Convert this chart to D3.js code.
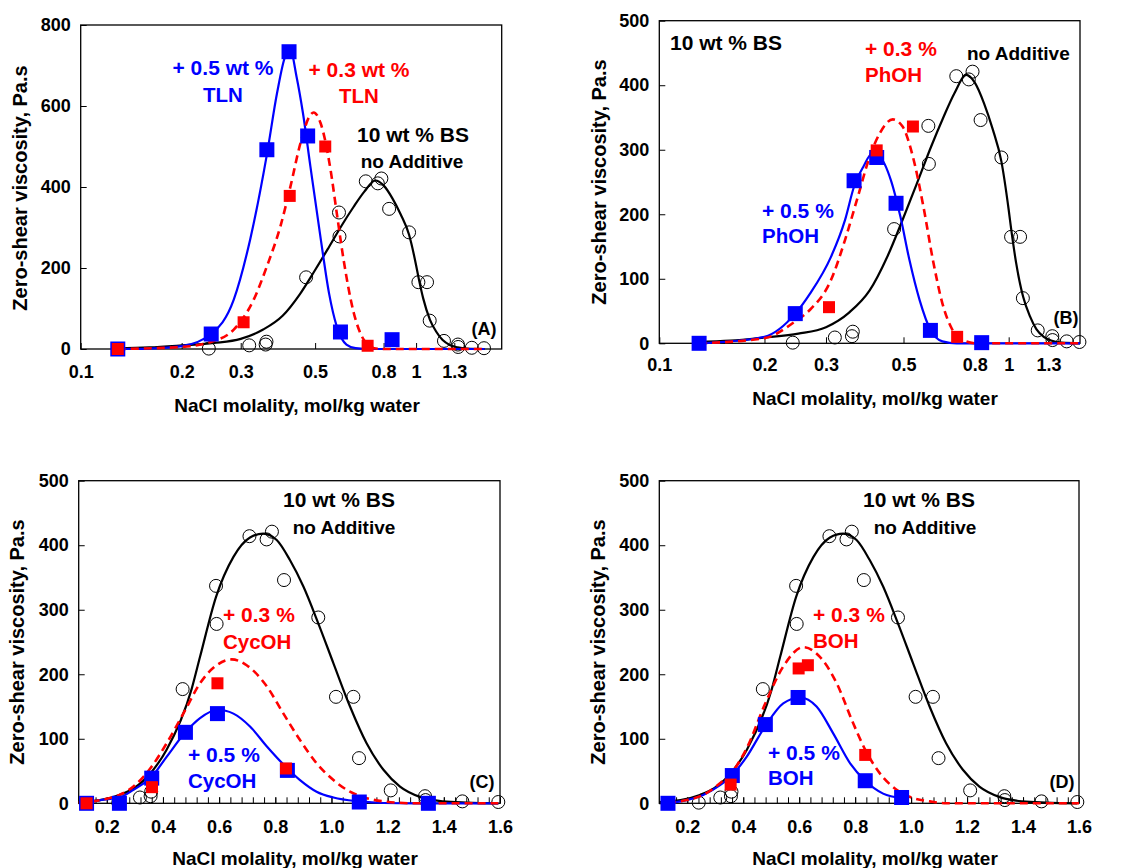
<!DOCTYPE html>
<html>
<head>
<meta charset="utf-8">
<script src="https://cdn.jsdelivr.net/npm/d3@7"></script>
<style>
  body { margin: 0; background: #fff; }
  text { font-family: Arial, "Liberation Sans", sans-serif; font-weight: bold; }
</style>
</head>
<body>
<svg id="fig" width="1131" height="868"></svg>
<script>
// ---- Measured zero-shear viscosity (Pa.s) vs NaCl molality (mol/kg water) ----

// 10 wt % BS, no additive (open circles, shared by all four panels)
const baseX = [0.241, 0.318, 0.356, 0.358, 0.470, 0.589, 0.591, 0.708, 0.769, 0.788,
               0.831, 0.953, 1.016, 1.078, 1.098, 1.211, 1.333, 1.335, 1.466, 1.594];
const baseY = [1, 9, 11, 18, 177, 337, 278, 414, 409, 421,
               346, 288, 165, 165, 70, 20, 11, 5, 3, 2];

// Fitted curve for the base system, as traced on the log axis (A, B)
const baseFitLog = [[0.128,2],[0.16,4],[0.2,9],[0.25,15],[0.3,25],[0.35,48],[0.4,82],
  [0.45,135],[0.5,195],[0.55,252],[0.6,305],[0.65,350],[0.7,388],[0.756,416],[0.8,404],
  [0.85,372],[0.9,332],[0.953,282],[1.0,207],[1.016,178],[1.05,125],[1.1,72],[1.15,42],
  [1.2,22],[1.26,10],[1.33,4],[1.42,1],[1.6,0]];

// Fitted curve for the base system on the linear axis (C, D)
const baseFitLin = [[0.1,2],[0.176,5],[0.245,13],[0.295,23],[0.36,49],[0.413,83],[0.502,177],
  [0.532,227],[0.589,320],[0.651,382],[0.71,412],[0.757,418],[0.805,408],[0.852,377],
  [0.9,336],[0.953,279],[1.007,217],[1.066,150],[1.125,93],[1.185,52],[1.244,26],
  [1.315,10],[1.398,3],[1.481,1],[1.594,0]];

// (A) toluene (TLN)
const tln05Pts = [[0.129,0],[0.245,37],[0.359,492],[0.418,734],[0.475,526],[0.595,42],[0.848,23]];
const tln03Pts = [[0.129,0],[0.306,66],[0.42,378],[0.536,500],[0.717,8]];
const tln05Fit = [[0.129,0],[0.16,1],[0.2,7],[0.245,37],[0.286,122],[0.32,270],[0.359,480],
  [0.385,632],[0.407,722],[0.422,738],[0.44,673],[0.46,582],[0.484,451],[0.52,270],
  [0.55,138],[0.58,56],[0.62,11],[0.66,2],[0.71,0],[1.6,0]];
const tln03Fit = [[0.129,0],[0.2,5],[0.241,16],[0.286,48],[0.328,122],[0.359,204],[0.394,303],
  [0.422,401],[0.452,508],[0.484,578],[0.495,584],[0.519,558],[0.556,442],[0.58,336],
  [0.608,220],[0.652,89],[0.698,23],[0.75,2],[0.8,0],[1.6,0]];

// (B) phenol (PhOH)
const phoh05Pts = [[0.13,0],[0.245,46],[0.361,252],[0.419,288],[0.476,217],[0.597,20],[0.837,1]];
const phoh03Pts = [[0.306,56],[0.419,299],[0.532,336],[0.712,10]];
const phoh05Fit = [[0.13,0],[0.16,3],[0.2,10],[0.245,46],[0.27,77],[0.31,134],[0.34,191],
  [0.361,243],[0.384,274],[0.405,293],[0.427,289],[0.46,253],[0.49,196],[0.52,129],
  [0.556,67],[0.597,21],[0.646,3],[0.71,0],[1.6,0]];
const phoh03Fit = [[0.13,0],[0.2,8],[0.245,34],[0.27,52],[0.31,98],[0.34,160],[0.37,227],
  [0.4,289],[0.427,325],[0.466,347],[0.497,336],[0.532,289],[0.57,212],[0.607,129],
  [0.646,62],[0.69,21],[0.74,5],[0.81,0],[1.6,0]];

// (C) cyclohexanol (CycOH)
const cyc05Pts = [[0.128,0],[0.245,0],[0.36,39],[0.48,110],[0.594,139],[0.843,51],[1.099,2],[1.345,0]];
const cyc03Pts = [[0.128,0],[0.361,25],[0.594,186],[0.838,54]];
const cyc05Fit = [[0.128,0],[0.176,5],[0.245,9],[0.295,21],[0.36,41],[0.413,72],[0.48,110],
  [0.532,132],[0.594,145],[0.651,139],[0.71,119],[0.77,88],[0.843,54],[0.888,36],
  [0.947,18],[1.007,9],[1.099,3],[1.185,0.5],[1.3,0],[1.594,0]];
const cyc03Fit = [[0.1,1],[0.176,5],[0.245,13],[0.295,26],[0.36,57],[0.413,93],[0.48,145],
  [0.532,186],[0.591,214],[0.645,223],[0.698,214],[0.77,181],[0.829,139],[0.888,98],
  [0.947,62],[1.007,36],[1.066,18],[1.125,8],[1.185,3],[1.3,0],[1.594,0]];

// (D) benzyl alcohol (BOH)
const boh05Pts = [[0.131,0],[0.361,43],[0.479,122],[0.596,164],[0.836,35],[0.966,9]];
const boh03Pts = [[0.355,29],[0.598,209],[0.631,214],[0.836,75]];
const boh05Fit = [[0.131,0],[0.198,5],[0.257,13],[0.317,28],[0.361,44],[0.412,72],[0.479,120],
  [0.543,155],[0.603,164],[0.662,150],[0.722,108],[0.782,62],[0.836,35],[0.9,15],[0.966,8]];
const boh03Fit = [[0.131,1],[0.198,5],[0.257,13],[0.317,31],[0.361,49],[0.412,85],[0.479,155],
  [0.543,212],[0.615,242],[0.674,227],[0.734,186],[0.793,124],[0.836,83],[0.889,46],
  [0.948,21],[1.008,8],[1.067,3],[1.127,0],[1.6,0]];

// Axis tick labels
const logTicks = [0.1, 0.2, 0.3, 0.5, 0.8, 1, 1.3];
const linTicks = [0.2, 0.4, 0.6, 0.8, 1.0, 1.2, 1.4, 1.6];
const yTicks800 = [0, 200, 400, 600, 800];
const yTicks500 = [0, 100, 200, 300, 400, 500];

const BLUE = "#0000ff", RED = "#ff0000", BLACK = "#000";
const svg = d3.select("#fig");

const panels = [
  { tag: "A", log: true, xDom: [0.1, 1.8], yDom: [0, 800], yTicks: yTicks800,
    box: { l: 80.7, r: 501.7, t: 25, b: 349 }, baseFit: baseFitLog,
    fit05: tln05Fit, fit03: tln03Fit, pts05: tln05Pts, pts03: tln03Pts,
    yTitle: [20, 188], xTitle: [297, 405], pad: 16,
    notes: [
      { t: "+ 0.5 wt %", x: 223, y: 68, c: BLUE, s: 21, a: "middle" },
      { t: "TLN", x: 223, y: 95, c: BLUE, s: 20.5, a: "middle" },
      { t: "+ 0.3 wt %", x: 359, y: 70, c: RED, s: 21, a: "middle" },
      { t: "TLN", x: 359, y: 96, c: RED, s: 20.5, a: "middle" },
      { t: "10 wt % BS", x: 413, y: 135, c: BLACK, s: 21, a: "middle" },
      { t: "no Additive", x: 412, y: 161, c: BLACK, s: 19, a: "middle" },
      { t: "(A)", x: 484, y: 329, c: BLACK, s: 18, a: "middle" } ] },
  { tag: "B", log: true, xDom: [0.1, 1.6], yDom: [0, 500], yTicks: yTicks500,
    box: { l: 659.3, r: 1080, t: 20.7, b: 343.3 }, baseFit: baseFitLog,
    fit05: phoh05Fit, fit03: phoh03Fit, pts05: phoh05Pts, pts03: phoh03Pts,
    yTitle: [599, 182], xTitle: [875, 398], pad: 15,
    notes: [
      { t: "10 wt % BS", x: 726, y: 43, c: BLACK, s: 21, a: "middle" },
      { t: "+ 0.3 %", x: 865, y: 49, c: RED, s: 21, a: "start" },
      { t: "PhOH", x: 865, y: 75, c: RED, s: 20.5, a: "start" },
      { t: "no Additive", x: 967, y: 53, c: BLACK, s: 19, a: "start" },
      { t: "+ 0.5 %", x: 762, y: 211, c: BLUE, s: 21, a: "start" },
      { t: "PhOH", x: 762, y: 236, c: BLUE, s: 20.5, a: "start" },
      { t: "(B)", x: 1066, y: 318, c: BLACK, s: 18, a: "middle" } ] },
  { tag: "C", log: false, xDom: [0.1, 1.6], yDom: [0, 500], yTicks: yTicks500,
    box: { l: 78.7, r: 500, t: 480.7, b: 803.3 }, baseFit: baseFitLin,
    fit05: cyc05Fit, fit03: cyc03Fit, pts05: cyc05Pts, pts03: cyc03Pts,
    yTitle: [17, 642], xTitle: [295, 858], pad: 17,
    notes: [
      { t: "10 wt % BS", x: 339, y: 500, c: BLACK, s: 21, a: "middle" },
      { t: "no Additive", x: 344, y: 527, c: BLACK, s: 19, a: "middle" },
      { t: "+ 0.3 %", x: 223, y: 615, c: RED, s: 21, a: "start" },
      { t: "CycOH", x: 223, y: 642, c: RED, s: 20.5, a: "start" },
      { t: "+ 0.5 %", x: 188, y: 755, c: BLUE, s: 21, a: "start" },
      { t: "CycOH", x: 188, y: 781, c: BLUE, s: 20.5, a: "start" },
      { t: "(C)", x: 482, y: 782, c: BLACK, s: 18, a: "middle" } ] },
  { tag: "D", log: false, xDom: [0.1, 1.6], yDom: [0, 500], yTicks: yTicks500,
    box: { l: 659.3, r: 1079, t: 480.7, b: 803.3 }, baseFit: baseFitLin,
    fit05: boh05Fit, fit03: boh03Fit, pts05: boh05Pts, pts03: boh03Pts,
    yTitle: [598, 642], xTitle: [875, 858], pad: 17,
    notes: [
      { t: "10 wt % BS", x: 919, y: 500, c: BLACK, s: 21, a: "middle" },
      { t: "no Additive", x: 925, y: 527, c: BLACK, s: 19, a: "middle" },
      { t: "+ 0.3 %", x: 813, y: 615, c: RED, s: 21, a: "start" },
      { t: "BOH", x: 813, y: 641, c: RED, s: 20.5, a: "start" },
      { t: "+ 0.5 %", x: 768, y: 753, c: BLUE, s: 21, a: "start" },
      { t: "BOH", x: 768, y: 778, c: BLUE, s: 20.5, a: "start" },
      { t: "(D)", x: 1062, y: 782, c: BLACK, s: 18, a: "middle" } ] }
];

panels.forEach(p => {
  const { l, r, t, b } = p.box;
  const x = (p.log ? d3.scaleLog() : d3.scaleLinear()).domain(p.xDom).range([l, r]);
  const y = d3.scaleLinear().domain(p.yDom).range([b, t]);
  const g = svg.append("g");

  // y axis (ticks pointing inward)
  const yAxis = g.append("g").attr("transform", `translate(${l},0)`)
    .call(d3.axisLeft(y).tickValues(p.yTicks).tickSizeInner(-6).tickSizeOuter(0).tickPadding(10));
  yAxis.select(".domain").remove();
  yAxis.selectAll("text").style("font-size", "18px").attr("fill", BLACK);
  yAxis.selectAll("line").attr("stroke", BLACK);

  // x axis
  const xAxisG = g.append("g").attr("transform", `translate(0,${b})`);
  if (p.log) {
    xAxisG.call(d3.axisBottom(x).tickValues(logTicks).tickFormat(d => String(d))
      .tickSizeInner(-6).tickSizeOuter(0).tickPadding(p.pad));
  } else {
    const minor = d3.range(0.12, 1.6001, 0.04);
    g.append("g").attr("transform", `translate(0,${b})`)
      .call(d3.axisBottom(x).tickValues(minor).tickFormat("").tickSizeInner(-6).tickSizeOuter(0))
      .call(s => s.select(".domain").remove())
      .selectAll("line").attr("stroke", BLACK);
    xAxisG.call(d3.axisBottom(x).tickValues(linTicks).tickFormat(d3.format(".1f"))
      .tickSizeInner(-6).tickSizeOuter(0).tickPadding(p.pad));
  }
  xAxisG.select(".domain").remove();
  xAxisG.selectAll("text").style("font-size", "18px").attr("fill", BLACK);
  xAxisG.selectAll("line").attr("stroke", BLACK);

  // plot frame
  g.append("rect").attr("x", l).attr("y", t).attr("width", r - l).attr("height", b - t)
    .attr("fill", "none").attr("stroke", BLACK).attr("stroke-width", 1.3);

  // axis titles
  g.append("text").attr("transform", `translate(${p.yTitle[0]},${p.yTitle[1]}) rotate(-90)`)
    .attr("text-anchor", "middle").attr("dy", "0.35em").style("font-size", "20px")
    .text("Zero-shear viscosity, Pa.s");
  g.append("text").attr("x", p.xTitle[0]).attr("y", p.xTitle[1]).attr("dy", "0.35em")
    .attr("text-anchor", "middle").style("font-size", "19px")
    .text("NaCl molality, mol/kg water");

  const plot = g.append("g");

  // base system data: open circles
  plot.selectAll("circle.base").data(d3.zip(baseX, baseY)).join("circle")
    .attr("cx", d => x(d[0])).attr("cy", d => y(d[1])).attr("r", 6.5)
    .attr("fill", "none").attr("stroke", BLACK).attr("stroke-width", 1);

  const line = d3.line().x(d => x(d[0])).y(d => y(d[1])).curve(d3.curveMonotoneX);

  plot.append("path").attr("d", line(p.baseFit)).attr("fill", "none")
    .attr("stroke", BLACK).attr("stroke-width", 2.2);
  plot.append("path").attr("d", line(p.fit05)).attr("fill", "none")
    .attr("stroke", BLUE).attr("stroke-width", 2.2);
  plot.append("path").attr("d", line(p.fit03)).attr("fill", "none")
    .attr("stroke", RED).attr("stroke-width", 2.6).attr("stroke-dasharray", "8,5");

  // additive data: filled squares
  const sq = (sel, data, size, color) => sel.selectAll(null).data(data).join("rect")
    .attr("x", d => x(d[0]) - size / 2).attr("y", d => y(d[1]) - size / 2)
    .attr("width", size).attr("height", size).attr("fill", color);
  sq(plot, p.pts05, 15, BLUE);
  sq(plot, p.pts03, 12, RED);

  // annotations
  p.notes.forEach(n => {
    g.append("text").attr("x", n.x).attr("y", n.y).attr("dy", "0.35em")
      .attr("text-anchor", n.a).attr("fill", n.c).style("font-size", n.s + "px").text(n.t);
  });
});
</script>
</body>
</html>
